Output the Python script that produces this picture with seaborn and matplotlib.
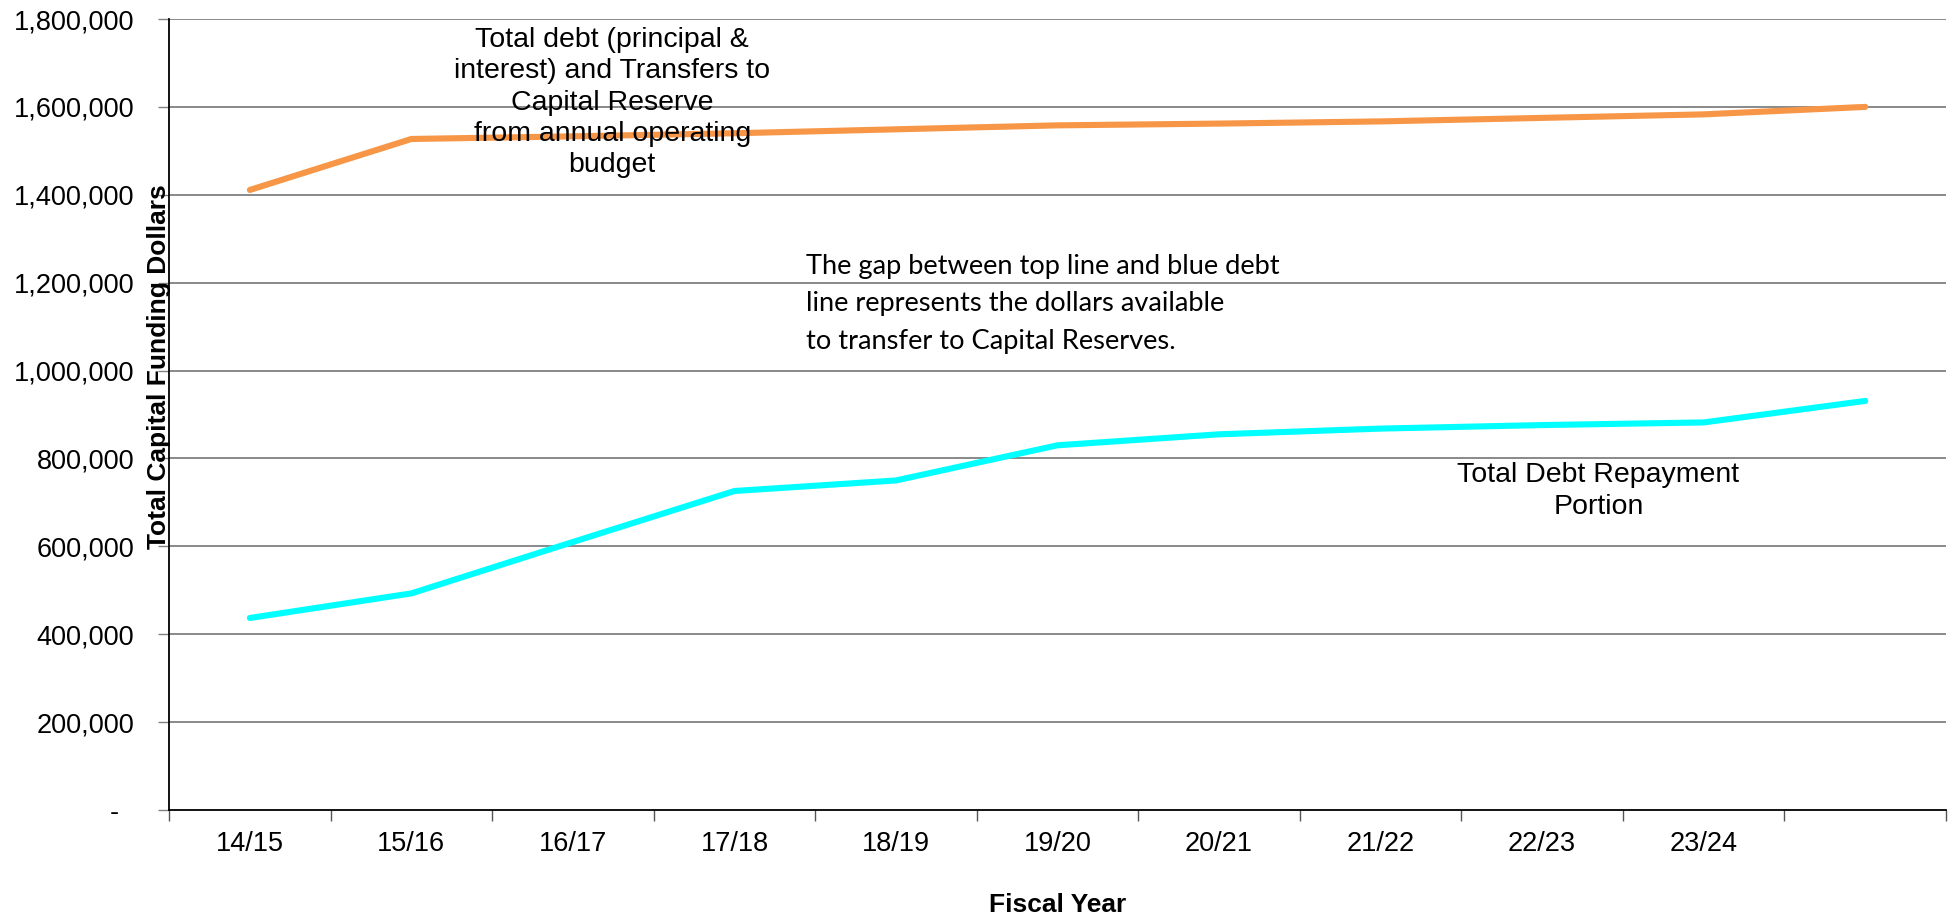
import matplotlib
matplotlib.use("Agg")
import matplotlib.pyplot as plt
from matplotlib.ticker import FuncFormatter, FixedLocator
import numpy as np
import pandas as pd
import seaborn as sns

# Fiscal years (the last period is plotted but left unlabeled on the axis)
fiscal_years = ["14/15", "15/16", "16/17", "17/18", "18/19", "19/20",
                "20/21", "21/22", "22/23", "23/24", "24/25"]
tick_labels = ["14/15", "15/16", "16/17", "17/18", "18/19", "19/20",
               "20/21", "21/22", "22/23", "23/24", ""]

# Debt plus transfers to capital reserve from the operating budget
total_funding = [1411000, 1527000, 1533000, 1540000, 1549000, 1558000,
                 1562000, 1567000, 1575000, 1583000, 1600000]
# Debt repayment portion
debt_repayment = [437000, 493000, 610000, 726000, 750000, 830000,
                  855000, 868000, 876000, 882000, 931000]

y_ticks = [0, 200000, 400000, 600000, 800000, 1000000,
           1200000, 1400000, 1600000, 1800000]

sns.set_theme(style="white")
plt.rcParams["font.family"] = ["Liberation Sans", "DejaVu Sans"]
plt.rcParams["text.color"] = "black"
plt.rcParams["axes.labelcolor"] = "black"
plt.rcParams["xtick.labelcolor"] = "black"
plt.rcParams["ytick.labelcolor"] = "black"

df = pd.DataFrame({
    "pos": list(range(len(fiscal_years))) * 2,
    "value": total_funding + debt_repayment,
    "series": ["total"] * len(fiscal_years) + ["debt"] * len(fiscal_years),
})

fig = plt.figure(figsize=(19.57, 9.18), dpi=100)
ax = fig.add_axes([0.0864, 0.1176, 0.9944 - 0.0864, 0.9793 - 0.1176])

# horizontal gridlines
for v in y_ticks[1:]:
    ax.axhline(v, color="#808080", lw=1.3, zorder=1)

sns.lineplot(data=df, x="pos", y="value", hue="series",
             palette={"total": "#F79646", "debt": "#00FFFF"},
             linewidth=4.4, legend=False, ax=ax, zorder=3)

ax.set_xlim(-0.5, len(fiscal_years) - 0.5)
ax.set_ylim(0, 1800000)

# x axis: labels centred in categories, tick marks at the boundaries
ax.xaxis.set_major_locator(FixedLocator(range(len(fiscal_years))))
ax.set_xticklabels(tick_labels, fontsize=19.5)
ax.xaxis.set_minor_locator(FixedLocator(np.arange(-0.5, len(fiscal_years), 1.0)))
ax.tick_params(axis="x", which="major", length=0, pad=15)
ax.tick_params(axis="x", which="minor", length=8, width=1, color="#555555",
               direction="out", bottom=True)

# y axis
ax.set_yticks(y_ticks)
ax.yaxis.set_major_formatter(FuncFormatter(
    lambda v, p: "-  " if v == 0 else f"{int(v):,}"))
ax.tick_params(axis="y", which="major", length=8, width=1, color="#808080",
               direction="out", left=True, labelsize=19.5, pad=17)

for side in ["top", "right"]:
    ax.spines[side].set_visible(False)
for side in ["left", "bottom"]:
    ax.spines[side].set_color("black")
    ax.spines[side].set_linewidth(1.3)

ax.set_xlabel("Fiscal Year", fontsize=19, fontweight="bold", labelpad=26)
ax.set_ylabel("Total Capital Funding Dollars", fontsize=19, fontweight="bold")
ax.yaxis.set_label_coords(-0.0055, 0.561)
ax.yaxis.label.set_va("center")

ax.text(2.243, 1610000,
        "Total debt (principal &\ninterest) and Transfers to\nCapital Reserve\n"
        "from annual operating\nbudget",
        ha="center", va="center", fontsize=20.5, linespacing=1.27, zorder=4)

ax.text(3.444, 1152000,
        "The gap between top line and blue debt\nline represents the dollars available\n"
        "to transfer to Capital Reserves.",
        ha="left", va="center", fontsize=19.6, linespacing=1.62,
        family=["Lato", "DejaVu Sans"], zorder=4)

ax.text(8.348, 726000, "Total Debt Repayment\nPortion",
        ha="center", va="center", fontsize=20.5, linespacing=1.3, zorder=4)

fig.savefig("out.png", dpi=100)
